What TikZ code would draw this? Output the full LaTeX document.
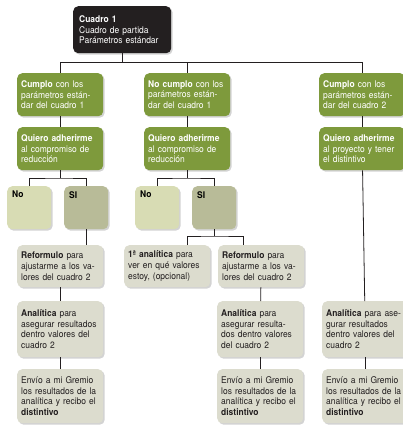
\documentclass[tikz,border=0pt]{standalone}
\usepackage{fontspec}
\setmainfont{TeX Gyre Heros}[FakeStretch=0.92]
\usepackage{tikz}
\usepackage{xcolor}
\usetikzlibrary{shadows}
\definecolor{cdark}{HTML}{231F20}
\definecolor{cgreen}{HTML}{7E9A3C}
\definecolor{cno}{HTML}{D8DCB4}
\definecolor{csi}{HTML}{B8BB98}
\definecolor{cgray}{HTML}{DCDCCE}

\begin{document}
\begin{tikzpicture}[
  x=1pt, y=-1pt,
  every node/.style = {font=\fontsize{9.2}{10.8}\selectfont},
  box/.style = {anchor=north west, rounded corners=5pt, align=left, inner xsep=4pt, inner ysep=3pt,
                minimum width=85pt, text width=78pt,
                drop shadow={shadow xshift=1.5pt, shadow yshift=-1.5pt, opacity=0.35}},
  head/.style = {box, fill=cdark, text=white, minimum width=95pt, text width=86pt, minimum height=47pt,
                 inner xsep=6pt},
  goal/.style = {box, fill=cgreen, text=white, minimum height=43pt},
  pick/.style = {box, minimum width=44pt, text width=34pt, minimum height=43pt},
  task/.style = {box, fill=cgray, text=cdark},
  link/.style = {draw=cdark, line width=0.8pt}
]
  \useasboundingbox (0,0) rectangle (403,426);

  % start
  \node[head] (c1) at (73,6) {\textbf{Cuadro 1}\\Cuadro de partida\\Parámetros estándar};

  % first level
  \node[goal] (a1) at (17,73) {\textbf{Cumplo} con los\\parámetros están-\\dar del cuadro 1};
  \node[goal] (a2) at (144,73) {\textbf{No cumplo} con los\\parámetros están-\\dar del cuadro 1};
  \node[goal] (a3) at (319,73) {\textbf{Cumplo} con los\\parámetros están-\\dar del cuadro 2};

  \node[goal] (b1) at (17,127) {\textbf{Quiero adherirme}\\al compromiso de\\reducción};
  \node[goal] (b2) at (144,127) {\textbf{Quiero adherirme}\\al compromiso de\\reducción};
  \node[goal] (b3) at (319,127) {\textbf{Quiero adherirme}\\al proyecto y tener\\el distintivo};

  % yes / no
  \node[pick, fill=cno, label={[anchor=north west, inner sep=5pt]north west:\textbf{No}}] (no1) at (7,186) {};
  \node[pick, fill=csi, label={[anchor=north west, inner sep=5pt]north west:\textbf{SI}}] (si1) at (64,186) {};
  \node[pick, fill=cno, label={[anchor=north west, inner sep=5pt]north west:\textbf{No}}] (no2) at (135,186) {};
  \node[pick, fill=csi, label={[anchor=north west, inner sep=5pt]north west:\textbf{SI}}] (si2) at (192,186) {};

  % steps
  \node[task, minimum height=42pt] (ref1) at (17,245) {\textbf{Reformulo} para\\ajustarme a los va-\\lores del cuadro 2};
  \node[task, minimum height=42pt] (an1) at (124,245) {\textbf{1ª analítica} para\\ver en qué valores\\estoy, (opcional)};
  \node[task, minimum height=42pt] (ref2) at (218,245) {\textbf{Reformulo} para\\ajustarme a los va-\\lores del cuadro 2};

  \node[task, minimum height=56pt] (ana1) at (17,301) {\textbf{Analítica} para\\asegurar resultados\\dentro valores del\\cuadro 2};
  \node[task, minimum height=56pt] (ana2) at (217,301) {\textbf{Analítica} para\\asegurar resulta-\\dos dentro valores\\del cuadro 2};
  \node[task, minimum height=56pt] (ana3) at (322,301) {\textbf{Analítica} para ase-\\gurar resultados\\dentro valores del\\cuadro 2};

  \node[task, minimum height=54pt] (env1) at (17,369) {Envío a mi Gremio\\los resultados de la\\analítica y recibo el\\\textbf{distintivo}};
  \node[task, minimum height=54pt] (env2) at (217,369) {Envío a mi Gremio\\los resultados de la\\analítica y recibo el\\\textbf{distintivo}};
  \node[task, minimum height=54pt] (env3) at (322,369) {Envío a mi Gremio\\los resultados de la\\analítica y recibo el\\\textbf{distintivo}};

  % connectors
  \coordinate (bus) at (c1 |- 0,62);
  \draw[link] (c1) -- (bus);
  \draw[link] (bus) -| (a1);
  \draw[link] (bus) -| (a2);
  \draw[link] (bus) -| (a3);

  \draw[link] (a1) -- (b1);
  \draw[link] (a2) -- (b2);
  \draw[link] (a3) -- (b3);

  \coordinate (f1) at (b1 |- 0,178);
  \draw[link] (b1) -- (f1);
  \draw[link] (no1) |- (f1) -| (si1);
  \coordinate (f2) at (b2 |- 0,178);
  \draw[link] (b2) -- (f2);
  \draw[link] (no2) |- (f2) -| (si2);

  \draw[link] (si1) -- (si1 |- ref1.north);
  \coordinate (f3) at (si2 |- 0,236);
  \draw[link] (si2) -- (f3);
  \draw[link] ([xshift=20pt]an1.north) |- (f3) -| ([xshift=-18pt]ref2.north);

  \draw[link] (ref1) -- (ana1);
  \draw[link] (ref2) -- (ana2);
  \draw[link] (b3) -- (ana3);

  \draw[link] (ana1) -- (env1);
  \draw[link] (ana2) -- (env2);
  \draw[link] (ana3) -- (env3);
\end{tikzpicture}
\end{document}
